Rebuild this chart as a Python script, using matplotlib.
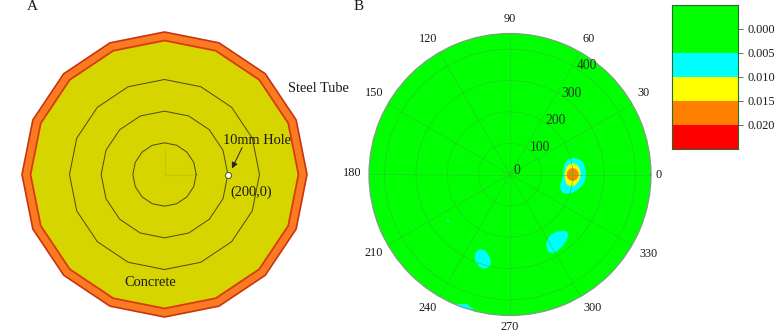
import numpy as np
import matplotlib
matplotlib.use("Agg")
import matplotlib.pyplot as plt
from matplotlib.colors import ListedColormap, BoundaryNorm

plt.rcParams['font.family'] = ['Liberation Serif', 'DejaVu Serif']

W, H = 776, 332

# ---- data ----
# Panel A section (mm)
tube_outer_r = 450
tube_inner_r = 423
ring_radii = [100, 200, 300]
n_sides = 16
hole_xy = (200, 0)

# Panel B: contour bands
levels = [-0.005, 0.005, 0.010, 0.015, 0.020, 0.025]
level_ticks = [0.000, 0.005, 0.010, 0.015, 0.020]
level_colors = ['#00ff00', '#00ffff', '#ffff00', '#ff8000', '#ff0000']
theta_ticks = list(range(0, 360, 30))
r_ticks = [100, 200, 300, 400]
r_labels = [0, 100, 200, 300, 400]

# Contour outlines, x and y in mm
main_cyan_x = [198, 217, 233, 239, 241, 236, 223, 207, 185, 169, 161, 163, 169, 171, 175, 185]
main_cyan_y = [51, 49, 38, 19, -3, -26, -41, -54, -61, -57, -45, -29, -10, 13, 32, 46]
main_yellow_x = [200, 213, 222, 224, 218, 207, 195, 183, 176, 175, 180, 188]
main_yellow_y = [35, 30, 15, -3, -22, -33, -37, -31, -15, 3, 20, 31]
main_orange_x = [200, 209, 216, 218, 216, 209, 200, 191, 184, 182, 184, 191]
main_orange_y = [19, 17, 9, 0, -9, -17, -19, -17, -9, 0, 9, 17]
blob2_x = [170, 181, 184, 179, 168, 152, 138, 126, 119, 117, 122, 132, 149]
blob2_y = [-181, -183, -192, -211, -227, -242, -250, -247, -235, -221, -205, -192, -184]
blob3_x = [-94, -82, -72, -63, -63, -72, -85, -97, -108, -112, -108, -102]
blob3_y = [-240, -243, -254, -272, -287, -297, -299, -293, -279, -266, -250, -242]
blob4_x = [-175, -138, -115, -150]
blob4_y = [-415, -414, -434, -424]
blob5_x = [-200, -195, -198]
blob5_y = [-146, -148, -151]

bands = [
    (main_cyan_x, main_cyan_y, level_colors[1]),
    (main_yellow_x, main_yellow_y, level_colors[2]),
    (main_orange_x, main_orange_y, level_colors[3]),
    (blob2_x, blob2_y, level_colors[1]),
    (blob3_x, blob3_y, level_colors[1]),
    (blob4_x, blob4_y, level_colors[1]),
    (blob5_x, blob5_y, level_colors[1]),
]

fig = plt.figure(figsize=(W / 100, H / 100), dpi=100, facecolor='white')


def fx(px):
    return px / W


def fy(py):
    return 1 - py / H


# ---- Panel A ----
cx, cy = 164.5, 174.5
s = tube_outer_r / 142.5
axA = fig.add_axes([0, 0, 352 / W, 1])
axA.set_xlim(-cx * s, (352 - cx) * s)
axA.set_ylim(-(H - cy) * s, cy * s)
axA.axis('off')


def polygon(r):
    a = np.deg2rad(np.arange(n_sides + 1) * 360 / n_sides)
    return r * np.cos(a), r * np.sin(a)


axA.fill(*polygon(tube_outer_r), fc='#fb7a22', ec='#c8340f', lw=1.2, zorder=1)
axA.fill(*polygon(tube_inner_r), fc='#d6d500', ec='#d93a10', lw=1.3, zorder=2)
for r in ring_radii:
    axA.plot(*polygon(r), color='#4b4b14', lw=0.7, zorder=3)
axA.plot([0, 90], [0, 0], color='#c6c600', lw=0.8, zorder=2.5)
axA.plot([0, 0], [0, 85], color='#c6c600', lw=0.8, zorder=2.5)
axA.plot(*hole_xy, 'o', ms=4.4, mfc='white', mec='#55551a', mew=0.7, zorder=4)
axA.annotate('', xy=(213, 19), xytext=(245, 85),
             arrowprops=dict(arrowstyle='-|>', color='#222222', lw=0.7,
                             mutation_scale=9, shrinkA=0, shrinkB=0), zorder=5)

txt = dict(ha='center', va='center', color='#1a1a1a')
fig.text(fx(32.5), fy(7), 'A', fontsize=11, **txt)
fig.text(fx(358.5), fy(7), 'B', fontsize=11, **txt)
fig.text(fx(318), fy(88), 'Steel Tube', fontsize=10.4, **txt)
fig.text(fx(257), fy(140), '10mm Hole', fontsize=10.4, **txt)
fig.text(fx(251), fy(192), '(200,0)', fontsize=10.4, **txt)
fig.text(fx(150.5), fy(283), 'Concrete', fontsize=10.4, **txt)

# ---- Panel B ----
axB = fig.add_axes([369 / W, (H - 315.5) / H, 282 / W, 282 / H], projection='polar')
axB.set_facecolor(level_colors[0])
axB.set_ylim(0, tube_outer_r)
for xs, ys, c in bands:
    xs = np.r_[xs, xs[0]]
    ys = np.r_[ys, ys[0]]
    axB.fill(np.unwrap(np.arctan2(ys, xs)), np.hypot(xs, ys), fc=c, ec=c, lw=0.6,
             joinstyle='round', zorder=2)
axB.set_thetagrids(theta_ticks, [''] * len(theta_ticks))
axB.set_rticks(r_ticks)
axB.set_yticklabels([])
axB.set_axisbelow(False)
axB.grid(True, color='#24c824', lw=0.4)
axB.spines['polar'].set_edgecolor('#7f9f7f')
axB.spines['polar'].set_linewidth(0.9)
# label offsets from the rim, in pixels
label_offset = {0: (8, 0), 30: (11, 11), 60: (8.5, 13), 90: (0, 14), 120: (-11.5, 13),
                150: (-14, 11), 180: (-17, 1), 210: (-14, -8.5), 240: (-11.5, -11),
                270: (0, -12), 300: (12.5, -11), 330: (16, -8.5)}
for t in theta_ticks:
    ox, oy = label_offset[t]
    axB.annotate(str(t), xy=(np.deg2rad(t), tube_outer_r), xytext=(ox * 0.72, oy * 0.72),
                 textcoords='offset points', ha='center', va='center',
                 fontsize=8.8, color='#1a1a1a', annotation_clip=False)
for r in r_labels:
    dx = 7 if r == 0 else 14.5
    dy = 4 if r == 0 else 0
    axB.annotate(str(r), xy=(np.deg2rad(60) if r else 0, r), xytext=(dx * 0.72, dy * 0.72),
                 textcoords='offset points', ha='center', va='center',
                 fontsize=9.8, color='#1f3a1f', zorder=6)

# ---- Colour bar ----
axC = fig.add_axes([672 / W, (H - 148.5) / H, 66 / W, 143.5 / H])
cmap = ListedColormap(level_colors)
norm = BoundaryNorm(levels, cmap.N)
axC.pcolormesh([0, 1], levels, np.array(levels[:-1]).reshape(-1, 1) + 1e-4, cmap=cmap, norm=norm)
axC.set_ylim(levels[-1], levels[0])
axC.set_xticks([])
axC.yaxis.tick_right()
axC.set_yticks(level_ticks)
axC.set_yticklabels([f'{v:.3f}' for v in level_ticks], fontsize=8.8, color='#1a1a1a')
axC.tick_params(axis='y', length=3.6, width=0.6, color='#555555', pad=3.2)
for sp in axC.spines.values():
    sp.set_edgecolor('#2a6a2a')
    sp.set_linewidth(0.8)

fig.savefig('out.png', dpi=100)
